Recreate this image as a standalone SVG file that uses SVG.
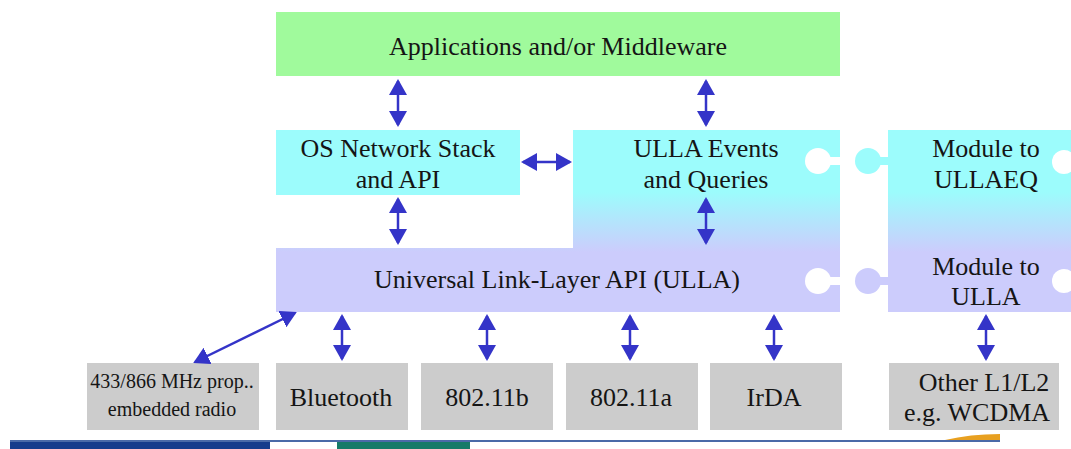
<svg xmlns="http://www.w3.org/2000/svg" width="1071" height="449" viewBox="0 0 1071 449">
<style>
text{font-family:"Liberation Serif","Times New Roman",serif;fill:#151515;text-anchor:middle}
.t{font-size:26px}
.s{font-size:20px}
.gray{fill:#cccccc}
.arr{stroke:#3434c8;stroke-width:2.5;fill:none;marker-start:url(#ah);marker-end:url(#ah)}
</style>
<defs>
<linearGradient id="g" gradientUnits="userSpaceOnUse" x1="0" y1="192" x2="0" y2="252">
<stop offset="0" stop-color="#9cfcfc"/>
<stop offset="1" stop-color="#ccccfc"/>
</linearGradient>
<marker id="ah" markerUnits="userSpaceOnUse" markerWidth="16" markerHeight="18" viewBox="0 0 16 18" refX="14" refY="9" orient="auto-start-reverse">
<path d="M0,0 L16,9 L0,18 Z" fill="#3434c8"/>
</marker>
</defs>
<rect width="1071" height="449" fill="#ffffff"/>

<g id="apps">
<rect x="276" y="12" width="564" height="64" fill="#a0fa9c"/>
<text class="t" x="558" y="55">Applications and/or Middleware</text>
</g>

<g id="osstack">
<rect x="276" y="130" width="244" height="65" fill="#9cfcfc"/>
<text class="t" x="398" y="157">OS Network Stack</text>
<text class="t" x="398" y="188">and API</text>
</g>

<g id="ulla">
<path d="M573,130 H840 V312 H276 V248 H573 Z" fill="url(#g)"/>
<circle cx="818" cy="161" r="13" fill="#fff"/>
<rect x="818" y="157" width="23" height="8" fill="#fff"/>
<circle cx="818" cy="281" r="13" fill="#fff"/>
<rect x="818" y="277" width="23" height="8" fill="#fff"/>
<text class="t" x="706" y="157">ULLA Events</text>
<text class="t" x="706" y="188">and Queries</text>
<text class="t" x="557" y="288">Universal Link-Layer API (ULLA)</text>
</g>

<g id="module">
<path d="M888,130 H1071 V312 H888 Z" fill="url(#g)"/>
<circle cx="868" cy="161" r="13" fill="#9cfcfc"/>
<rect x="867" y="157" width="22" height="8" fill="#9cfcfc"/>
<circle cx="868" cy="281" r="13" fill="#ccccfc"/>
<rect x="867" y="277" width="22" height="8" fill="#ccccfc"/>
<circle cx="1064" cy="162" r="12" fill="#fff"/>
<circle cx="1064" cy="281" r="12" fill="#fff"/>
<text class="t" x="986" y="157">Module to</text>
<text class="t" x="986" y="188">ULLAEQ</text>
<text class="t" x="986" y="275">Module to</text>
<text class="t" x="986" y="305">ULLA</text>
</g>

<g id="radio">
<rect class="gray" x="87" y="363" width="172" height="67"/>
<text class="s" x="172" y="388">433/866 MHz prop..</text>
<text class="s" x="172" y="416">embedded radio</text>
</g>
<g id="bluetooth">
<rect class="gray" x="276" y="363" width="132" height="67"/>
<text class="t" x="341" y="406">Bluetooth</text>
</g>
<g id="wifib">
<rect class="gray" x="421" y="363" width="132" height="67"/>
<text class="t" x="487" y="406">802.11b</text>
</g>
<g id="wifia">
<rect class="gray" x="566" y="363" width="132" height="67"/>
<text class="t" x="631" y="406">802.11a</text>
</g>
<g id="irda">
<rect class="gray" x="710" y="363" width="132" height="67"/>
<text class="t" x="774" y="406">IrDA</text>
</g>
<g id="other">
<rect class="gray" x="889" y="363" width="170" height="67"/>
<text class="t" x="984" y="391">Other L1/L2</text>
<text class="t" x="977" y="421">e.g. WCDMA</text>
</g>

<g id="connectors">
<line class="arr" x1="398" y1="81" x2="398" y2="125"/>
<line class="arr" x1="706" y1="81" x2="706" y2="125"/>
<line class="arr" x1="398" y1="199" x2="398" y2="243"/>
<line class="arr" x1="523" y1="162" x2="570" y2="162"/>
<line class="arr" x1="706" y1="199" x2="706" y2="243"/>
<line class="arr" x1="342" y1="316" x2="342" y2="359"/>
<line class="arr" x1="487" y1="316" x2="487" y2="359"/>
<line class="arr" x1="630" y1="316" x2="630" y2="359"/>
<line class="arr" x1="774" y1="316" x2="774" y2="359"/>
<line class="arr" x1="986" y1="316" x2="986" y2="359"/>
<line class="arr" x1="295" y1="313" x2="195" y2="362"/>
</g>

<g id="footer">
<rect x="10" y="440" width="990" height="2" fill="#4a6aa8"/>
<rect x="10" y="442" width="260" height="7" fill="#163c8c"/>
<rect x="337" y="442" width="133" height="7" fill="#157a68"/>
<path d="M945,440 Q970,434 1000,434 V440 Z" fill="#e8a020"/>
</g>
</svg>
